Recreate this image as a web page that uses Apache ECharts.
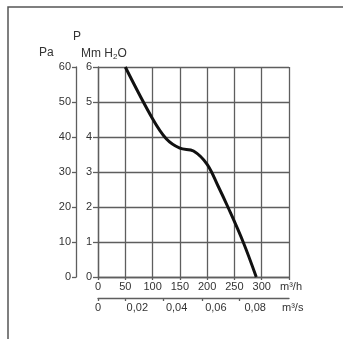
<!DOCTYPE html>
<html>
<head>
<meta charset="utf-8">
<script src="https://cdn.jsdelivr.net/npm/echarts@6/dist/echarts.min.js"></script>
<style>
  html, body { margin: 0; padding: 0; background: #fff; }
  #chart { width: 343px; height: 339px; }
</style>
</head>
<body>
<div id="chart"></div>
<script>
// fan curve, flow in m3/h against pressure in mm H2O
var curve = [
    [50, 6], [100, 4.52], [125, 3.95], [150, 3.68], [175, 3.6],
    [200, 3.22], [220, 2.6], [238, 2.0], [266, 1.0], [290, 0]
];
var flowLabels = [0, 0.02, 0.04, 0.06, 0.08];        // m3/s
var flowTicks = [0, 0.014, 0.033, 0.053, 0.072];     // m3/s, small marks
var flowMaxH = 350;                                  // m3/h at right edge

var font = 'Liberation Sans';
var ink = '#333';
var lineCol = '#5e5e5e';

var chart = echarts.init(document.getElementById('chart'));

var option = {
    animation: false,
    backgroundColor: '#fff',
    textStyle: { fontFamily: font },
    title: [
        { text: 'P', left: 73, top: 31, padding: 0,
          textStyle: { fontSize: 12, fontWeight: 'normal', color: ink, fontFamily: font } },
        { text: 'Pa', left: 39, top: 47, padding: 0,
          textStyle: { fontSize: 12, fontWeight: 'normal', color: ink, fontFamily: font } },
        { text: 'Mm H{s|2}O', left: 81, top: 47, padding: 0,
          textStyle: { fontSize: 12, fontWeight: 'normal', color: ink, fontFamily: font,
                       rich: { s: { fontSize: 8, color: ink, fontFamily: font, verticalAlign: 'bottom', padding: [6, 0, 0, 0] } } } }
    ],
    graphic: [{
        type: 'rect',
        shape: { x: 8, y: 7, width: 400, height: 400 },
        style: { fill: 'none', stroke: '#555', lineWidth: 1.5 }
    }],
    grid: { left: 98, top: 67, right: 54, bottom: 62, containLabel: false },
    xAxis: [{
        type: 'value',
        min: 0, max: flowMaxH, interval: 50,
        position: 'bottom',
        name: 'm\u00b3/h', nameLocation: 'end', nameGap: -9,
        nameTextStyle: { color: ink, fontSize: 11, verticalAlign: 'top', padding: [4, 0, 0, 0] },
        axisLine: { show: true, onZero: false, lineStyle: { color: lineCol, width: 1.3 } },
        axisTick: { show: true, inside: false, length: 3, lineStyle: { color: lineCol, width: 1.3 } },
        axisLabel: {
            color: ink, fontSize: 11, margin: 4,
            formatter: function (v) { return v >= flowMaxH ? '' : String(v); }
        },
        splitLine: { show: true, lineStyle: { color: lineCol, width: 1.3 } }
    }, {
        type: 'value',
        min: 0, max: flowMaxH / 3600,
        position: 'bottom', offset: 21,
        name: 'm\u00b3/s', nameLocation: 'end', nameGap: -7,
        nameTextStyle: { color: ink, fontSize: 11, verticalAlign: 'top', padding: [4, 0, 0, 0] },
        axisLine: { show: true, onZero: false, lineStyle: { color: lineCol, width: 1.3 } },
        axisTick: { show: true, inside: false, length: 3, customValues: flowTicks,
                    lineStyle: { color: lineCol, width: 1.3 } },
        axisLabel: {
            color: ink, fontSize: 11, margin: 4, customValues: flowLabels,
            formatter: function (v) { return v === 0 ? '0' : v.toFixed(2).replace('.', ','); }
        },
        splitLine: { show: false }
    }],
    yAxis: [{
        type: 'value',
        min: 0, max: 6, interval: 1,
        position: 'left',
        axisLine: { show: true, onZero: false, lineStyle: { color: lineCol, width: 1.3 } },
        axisTick: { show: true, inside: false, length: 5, lineStyle: { color: lineCol, width: 1.3 } },
        axisLabel: { color: ink, fontSize: 11, margin: 6 },
        splitLine: { show: true, lineStyle: { color: lineCol, width: 1.3 } }
    }, {
        type: 'value',
        min: 0, max: 60, interval: 10,
        position: 'left', offset: 22,
        axisLine: { show: true, onZero: false, lineStyle: { color: lineCol, width: 1.3 } },
        axisTick: { show: true, inside: false, length: 4, lineStyle: { color: lineCol, width: 1.3 } },
        axisLabel: { color: ink, fontSize: 11, margin: 5 },
        splitLine: { show: false }
    }],
    series: [{
        type: 'line',
        xAxisIndex: 0,
        yAxisIndex: 0,
        data: curve,
        smooth: 0.35,
        showSymbol: false,
        lineStyle: { color: '#111', width: 3 }
    }]
};

chart.setOption(option);
</script>
</body>
</html>
